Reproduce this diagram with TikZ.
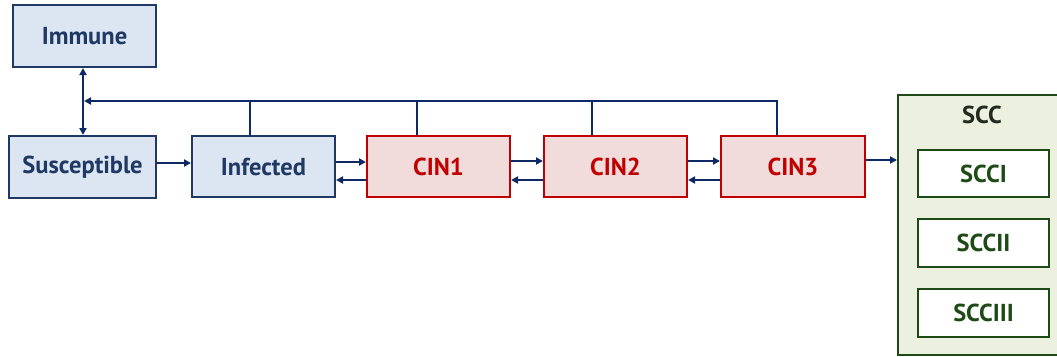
\documentclass[tikz,border=0pt]{standalone}
\usepackage{fontspec}
\setmainfont{PT Sans}
\usetikzlibrary{arrows.meta}
\definecolor{navy}{HTML}{1F3864}
\definecolor{arrowc}{HTML}{0E2A66}
\definecolor{bluefill}{HTML}{DCE6F2}
\definecolor{redc}{HTML}{C00000}
\definecolor{redfill}{HTML}{F2DCDB}
\definecolor{greenc}{HTML}{1E4A16}
\definecolor{greenfill}{HTML}{EBF1DE}
\definecolor{scctext}{HTML}{222A1E}
\tikzset{
  bigfont/.style={font=\fontsize{24.5}{28}\selectfont\bfseries},
  bluebox/.style={draw=navy, fill=bluefill, line width=2pt, text=navy, bigfont, inner sep=0pt},
  redbox/.style={draw=redc, fill=redfill, line width=2pt, text=redc, bigfont, inner sep=0pt},
  greenbox/.style={draw=greenc, fill=white, line width=2pt, text=greenc, bigfont, inner sep=0pt},
  conn/.style={draw=arrowc, line width=1.8pt},
  arr/.style={conn, -{Triangle[length=7pt,width=7pt]}},
  darr/.style={conn, {Triangle[length=7pt,width=7pt]}-{Triangle[length=7pt,width=7pt]}},
}
\begin{document}
\begin{tikzpicture}[x=1pt,y=-1pt]
\useasboundingbox (0,0) rectangle (1057,356);
% SCC container (extends past the right edge)
\node[draw=greenc, fill=greenfill, line width=2pt, minimum width=172pt, minimum height=260pt, inner sep=0pt] (scc) at (984,224.5) {};
\node[text=scctext, bigfont] (scclab) at (982,115) {SCC};
\node[greenbox, minimum width=131pt, minimum height=47pt] (s1) at (983.5,173.5) {SCCI};
\node[greenbox, minimum width=131pt, minimum height=48pt] (s2) at (983.5,243) {SCCII};
\node[greenbox, minimum width=131pt, minimum height=48pt] (s3) at (983.5,313) {SCCIII};
% main boxes
\node[bluebox, minimum width=143pt, minimum height=62pt] (im) at (84.5,36) {Immune};
\node[bluebox, minimum width=147pt, minimum height=62pt] (su) at (82.5,167) {Susceptible};
\node[bluebox, minimum width=143pt, minimum height=61pt] (in) at (263.5,166.5) {Infected};
\node[redbox, minimum width=143pt, minimum height=61pt] (c1) at (438.5,166.5) {CIN1};
\node[redbox, minimum width=143pt, minimum height=61pt] (c2) at (615.5,166.5) {CIN2};
\node[redbox, minimum width=144pt, minimum height=61pt] (c3) at (793,166.5) {CIN3};
% immune <-> susceptible
\draw[darr] (im.south -| 83,0) -- (su.north -| 83,0);
% feedback line
\coordinate (fb) at (84,101);
\draw[arr] (c3.north -| 777,0) |- (fb);
\draw[conn] (in.north -| 250,0) -- (250,101);
\draw[conn] (c1.north -| 417,0) -- (417,101);
\draw[conn] (c2.north -| 592,0) -- (592,101);
% forward / backward arrows
\draw[arr] (su.east |- 0,163) -- (in.west |- 0,163);
\draw[arr] (in.east |- 0,162) -- (c1.west |- 0,162);
\draw[arr] (c1.west |- 0,180) -- (in.east |- 0,180);
\draw[arr] (c1.east |- 0,161) -- (c2.west |- 0,161);
\draw[arr] (c2.west |- 0,180) -- (c1.east |- 0,180);
\draw[arr] (c2.east |- 0,161) -- (c3.west |- 0,161);
\draw[arr] (c3.west |- 0,180) -- (c2.east |- 0,180);
\draw[arr] (c3.east |- 0,160) -- (scc.west |- 0,160);
\end{tikzpicture}
\end{document}
